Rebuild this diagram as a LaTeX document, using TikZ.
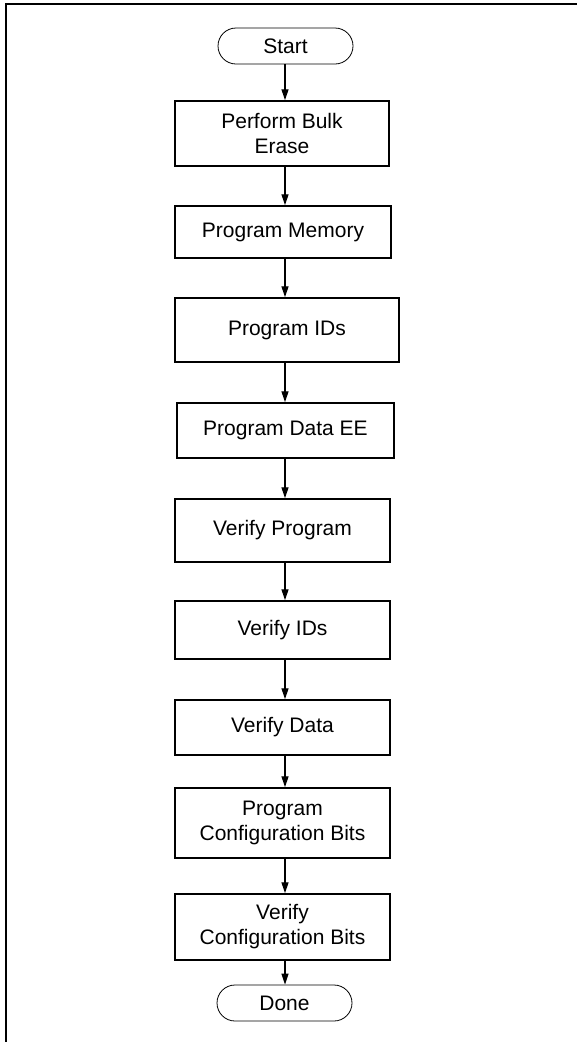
\documentclass[tikz,border=0pt]{standalone}
\usepackage{fontspec}
\setmainfont{Liberation Sans}
\usetikzlibrary{arrows.meta}
\begin{document}
\begin{tikzpicture}[x=1pt,y=-1pt,
  procbox/.style={draw,line width=1.5pt,rectangle,inner sep=0pt,align=center,
    font=\fontsize{21}{25}\selectfont},
  termbox/.style={draw,line width=0.8pt,rectangle,rounded corners=18pt,inner sep=0pt,
    minimum width=135pt,minimum height=36pt,font=\fontsize{21}{25}\selectfont},
  flow/.style={line width=1.3pt,-{Triangle[length=11pt,width=7pt]}},
  frame/.style={line width=1.7pt}]
\useasboundingbox (0,0) rectangle (577,1042);
\draw[frame] (577,4) -- (6,4) -- (6,1042);
\coordinate (axis) at (285,0);
\node[termbox] (start) at (285.5,46) {Start};
\node[procbox,minimum width=214pt,minimum height=65pt] (erase) at (282,133.5) {Perform Bulk\\Erase};
\node[procbox,minimum width=216pt,minimum height=52pt] (pmem) at (283,232) {Program Memory};
\node[procbox,minimum width=224pt,minimum height=64pt] (pids) at (287,330) {Program IDs};
\node[procbox,minimum width=217pt,minimum height=55pt] (pdata) at (285.5,430.5) {Program Data EE};
\node[procbox,minimum width=215pt,minimum height=63pt] (vprog) at (282.5,530.5) {Verify Program};
\node[procbox,minimum width=215pt,minimum height=58pt] (vids) at (282.5,630) {Verify IDs};
\node[procbox,minimum width=215pt,minimum height=55pt] (vdata) at (282.5,727.5) {Verify Data};
\node[procbox,minimum width=215pt,minimum height=70pt] (pcfg) at (282.5,823) {Program\\Configuration Bits};
\node[procbox,minimum width=215pt,minimum height=66pt] (vcfg) at (282.5,927) {Verify\\Configuration Bits};
\node[termbox] (done) at (284.5,1003) {Done};
\draw[flow] (start.south -| axis) -- (erase.north -| axis);
\draw[flow] (erase.south -| axis) -- (pmem.north -| axis);
\draw[flow] (pmem.south -| axis) -- (pids.north -| axis);
\draw[flow] (pids.south -| axis) -- (pdata.north -| axis);
\draw[flow] (pdata.south -| axis) -- (vprog.north -| axis);
\draw[flow] (vprog.south -| axis) -- (vids.north -| axis);
\draw[flow] (vids.south -| axis) -- (vdata.north -| axis);
\draw[flow] (vdata.south -| axis) -- (pcfg.north -| axis);
\draw[flow] (pcfg.south -| axis) -- (vcfg.north -| axis);
\draw[flow] (vcfg.south -| axis) -- (done.north -| axis);
\end{tikzpicture}
\end{document}
